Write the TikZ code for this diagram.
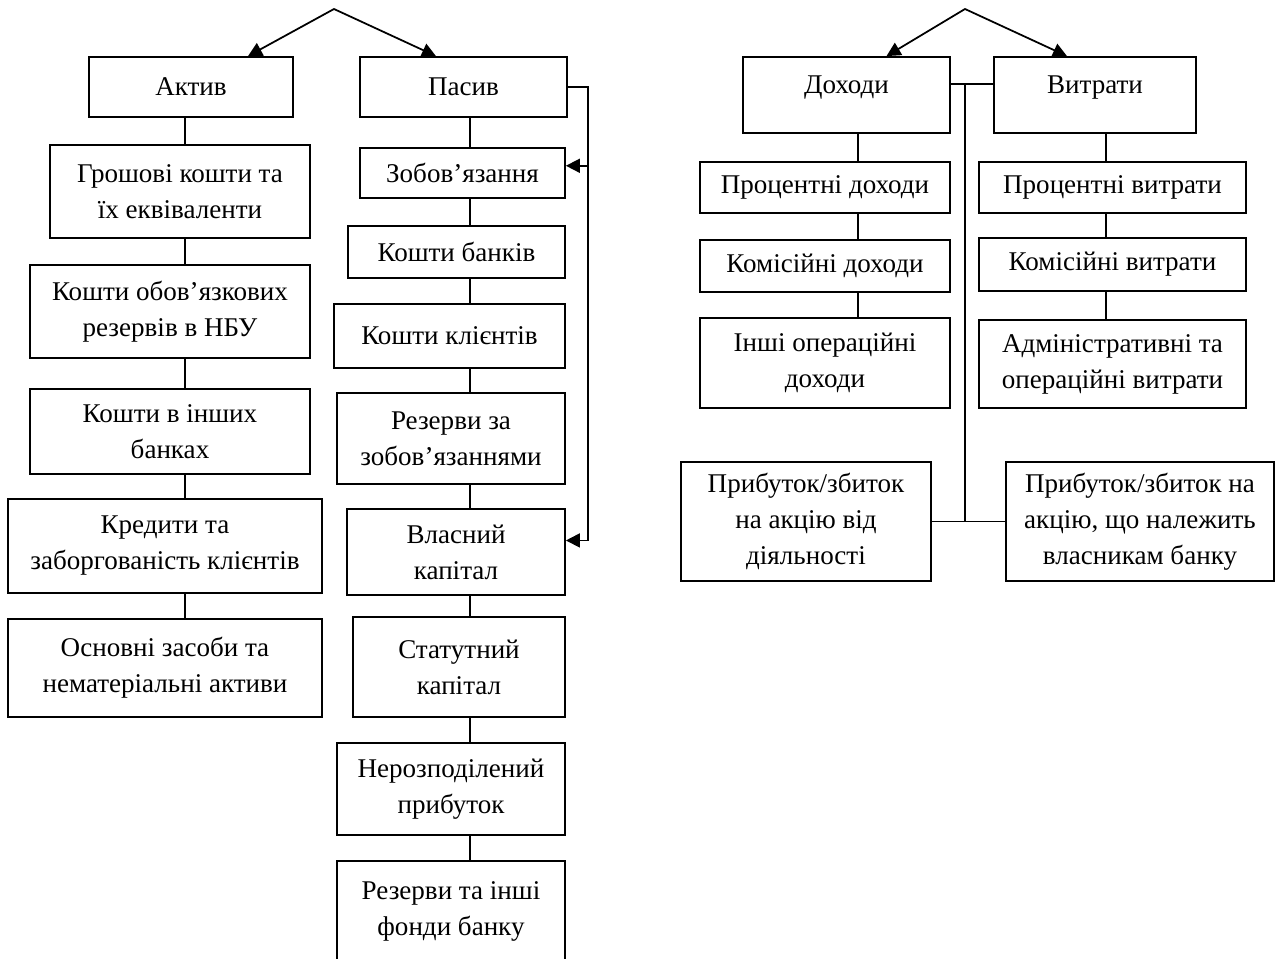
\documentclass[tikz,border=0pt]{standalone}
\usepackage{fontspec}
\setmainfont{Liberation Serif}
\usetikzlibrary{calc}
\usetikzlibrary{arrows.meta}
\tikzset{
	blok/.style={draw, line width=1pt, align=center, inner sep=0pt,
			font=\fontsize{15.4}{20.5}\selectfont},
	rozmir/.style 2 args={minimum width=#1*0.02cm, minimum height=#2*0.02cm},
	zvyazok/.style={line width=1pt},
	strilka/.style={line width=1pt, -{Triangle[length=8pt,width=8pt]}},
	dvistrilka/.style={line width=1pt, {Triangle[length=8pt,width=8pt]}-{Triangle[length=8pt,width=8pt]}}
}

\begin{document}
\begin{tikzpicture}[x=0.02cm,y=-0.02cm]
		\useasboundingbox (0,0) rectangle (1275,959);
		\clip (0,0) rectangle (1275,959);
		% balans
		\node[blok, rozmir={204}{60}] (aktyv) at (191,87) {Актив};
		\node[blok, rozmir={207}{60}] (pasyv) at (463.5,87) {Пасив};
		\node[blok, rozmir={260}{93}] (groshi) at (180,191.5) {Грошові кошти та\\їх еквіваленти};
		\node[blok, rozmir={280}{93}] (obovyaz) at (170,311.5) {Кошти обов’язкових\\резервів в НБУ};
		\node[blok, rozmir={280}{85}] (inshibanky) at (170,431.5) {Кошти в інших\\банках};
		\node[blok, rozmir={314}{94}] (kredyty) at (165,546) {Кредити та\\заборгованість клієнтів};
		\node[blok, rozmir={314}{98}] (osnovni) at (165,668) {Основні засоби та\\нематеріальні активи};
		\node[blok, rozmir={205}{50}] (zobov) at (462.5,173) {Зобов’язання};
		\node[blok, rozmir={217}{52}] (kbankiv) at (456.5,252) {Кошти банків};
		\node[blok, rozmir={231}{64}] (kklientiv) at (449.5,336) {Кошти клієнтів};
		\node[blok, rozmir={228}{91}] (rezzob) at (451,438.5) {Резерви за\\зобов’язаннями};
		\node[blok, rozmir={218}{86}] (vlasnyi) at (456,552) {Власний\\капітал};
		\node[blok, rozmir={212}{100}] (statut) at (459,667) {Статутний\\капітал};
		\node[blok, rozmir={228}{92}] (nerozp) at (451,789) {Нерозподілений\\прибуток};
		\node[blok, rozmir={228}{100}] (fondy) at (451,911) {Резерви та інші\\фонди банку};
		\coordinate (vershL) at (334,9);
		\coordinate (lx) at (185,0);
		\coordinate (rx) at (470,0);
		\coordinate (bx) at (588,0);
		\draw[dvistrilka] ($(aktyv.north)+(57,0)$) -- (vershL) -- ($(pasyv.north)+(-27.5,0)$);
		\draw[zvyazok] (aktyv.south -| lx) -- (groshi.north -| lx);
		\draw[zvyazok] (groshi.south -| lx) -- (obovyaz.north -| lx);
		\draw[zvyazok] (obovyaz.south -| lx) -- (inshibanky.north -| lx);
		\draw[zvyazok] (inshibanky.south -| lx) -- (kredyty.north -| lx);
		\draw[zvyazok] (kredyty.south -| lx) -- (osnovni.north -| lx);
		\draw[zvyazok] (pasyv.south -| rx) -- (zobov.north -| rx);
		\draw[zvyazok] (zobov.south -| rx) -- (kbankiv.north -| rx);
		\draw[zvyazok] (kbankiv.south -| rx) -- (kklientiv.north -| rx);
		\draw[zvyazok] (kklientiv.south -| rx) -- (rezzob.north -| rx);
		\draw[zvyazok] (rezzob.south -| rx) -- (vlasnyi.north -| rx);
		\draw[zvyazok] (vlasnyi.south -| rx) -- (statut.north -| rx);
		\draw[zvyazok] (statut.south -| rx) -- (nerozp.north -| rx);
		\draw[zvyazok] (nerozp.south -| rx) -- (fondy.north -| rx);
		\draw[strilka] (pasyv.east) -| (vlasnyi.6 -| bx) -- (vlasnyi.6);
		\draw[strilka] (zobov.4 -| bx) -- (zobov.4);
		% zvit pro prybutky
		\node[blok, rozmir={207}{76}, text depth=12pt] (dohody) at (846.5,95) {Доходи};
		\node[blok, rozmir={202}{76}, text depth=12pt] (vytraty) at (1095,95) {Витрати};
		\node[blok, rozmir={250}{51}] (protsdoh) at (825,187.5) {Процентні доходи};
		\node[blok, rozmir={250}{52}] (komisdoh) at (825,266) {Комісійні доходи};
		\node[blok, rozmir={250}{90}] (inshidoh) at (825,363) {Інші операційні\\доходи};
		\node[blok, rozmir={267}{51}] (protsvytr) at (1112.5,187.5) {Процентні витрати};
		\node[blok, rozmir={267}{53}] (komisvytr) at (1112.5,264.5) {Комісійні витрати};
		\node[blok, rozmir={267}{88}] (admin) at (1112.5,364) {Адміністративні та\\операційні витрати};
		\node[blok, rozmir={250}{119}] (prybdiyal) at (806,521.5) {Прибуток/збиток\\на акцію від\\діяльності};
		\node[blok, rozmir={268}{119}] (prybvlasn) at (1140,521.5) {Прибуток/збиток на\\акцію, що належить\\власникам банку};
		\coordinate (vershR) at (965,9);
		\coordinate (mtop) at (965,84);
		\coordinate (dx) at (858,0);
		\coordinate (vx) at (1106,0);
		\draw[dvistrilka] ($(dohody.north)+(40,0)$) -- (vershR) -- ($(vytraty.north)+(-28,0)$);
		\draw[zvyazok] (dohody.south -| dx) -- (protsdoh.north -| dx);
		\draw[zvyazok] (protsdoh.south -| dx) -- (komisdoh.north -| dx);
		\draw[zvyazok] (komisdoh.south -| dx) -- (inshidoh.north -| dx);
		\draw[zvyazok] (vytraty.south -| vx) -- (protsvytr.north -| vx);
		\draw[zvyazok] (protsvytr.south -| vx) -- (komisvytr.north -| vx);
		\draw[zvyazok] (komisvytr.south -| vx) -- (admin.north -| vx);
		\draw[zvyazok] (dohody.east |- mtop) -- (vytraty.west |- mtop);
		\draw[zvyazok] (mtop) -- (mtop |- prybdiyal.east);
		\draw[zvyazok] (prybdiyal.east) -- (prybvlasn.west);
	\end{tikzpicture}
\end{document}
